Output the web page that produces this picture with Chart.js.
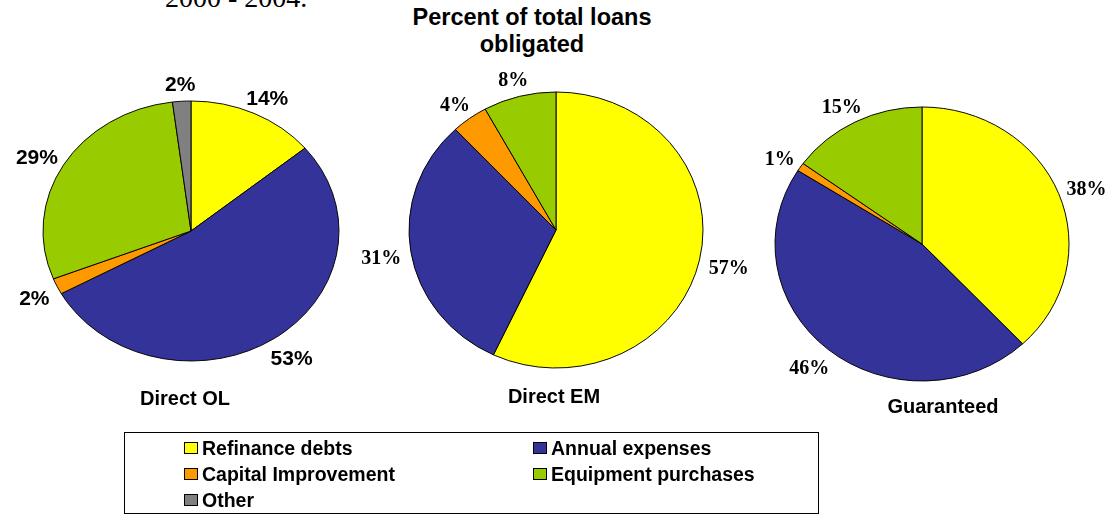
<!DOCTYPE html>
<html>
<head>
<meta charset="utf-8">
<script src="https://cdn.jsdelivr.net/npm/chart.js@4.4.0/dist/chart.umd.min.js"></script>
<style>
  html, body { margin: 0; padding: 0; background: #fff; }
  body { width: 1110px; height: 514px; position: relative; overflow: hidden; color: #000; }
  .abs { position: absolute; white-space: nowrap; }
  #cutText { left: 165px; top: -16px; font: 28px/28px 'Liberation Serif', 'Times New Roman', serif; }
  #mainTitle { left: 332px; width: 400px; top: 4px; text-align: center; font: bold 23.5px/27px 'Liberation Sans', Arial, sans-serif; }
  .pieTitle { font: bold 20px/20px 'Liberation Sans', Arial, sans-serif; transform: translateX(-50%); }
  canvas.pie { position: absolute; }
  #legend { left: 124px; top: 432px; width: 695px; height: 82px; border: 1px solid #000; box-sizing: border-box; }
  .item { position: absolute; font: bold 19.5px/26px 'Liberation Sans', Arial, sans-serif; white-space: nowrap; }
  .sw { display: inline-block; width: 14px; height: 12px; border: 1px solid #000; box-sizing: border-box; margin: 0 4px 1px 0; vertical-align: baseline; }
</style>
</head>
<body>
<div id="cutText" class="abs">2000 - 2004.</div>
<div id="mainTitle" class="abs">Percent of total loans<br>obligated</div>
<canvas id="pieOL" class="pie" width="420" height="400"></canvas>
<canvas id="pieEM" class="pie" width="420" height="400"></canvas>
<canvas id="pieGU" class="pie" width="420" height="400"></canvas>
<div id="legend" class="abs"></div>
<script>
// slice categories and colours
const categories = ['Refinance debts', 'Annual expenses', 'Capital Improvement', 'Equipment purchases', 'Other'];
const sliceColors = ['#FFFF00', '#333399', '#FF9900', '#99CC00', '#808080'];

// percent of total loans obligated, per program
const pieNames = ['Direct OL', 'Direct EM', 'Guaranteed'];
const directOL = [14, 53, 2, 29, 2];
const directEM = [57, 31, 4, 8, 0];
const guaranteed = [38, 46, 1, 15, 0];

const SANS = '"Liberation Sans", Arial, sans-serif';
const SERIF = '"Liberation Serif", "Times New Roman", serif';

// where each pie sits on the page (pies are slightly squashed ellipses)
const pies = [
    { canvas: 'pieOL', data: directOL, cx: 191, cy: 231, rx: 148, ry: 130, font: 'bold 21px ' + SANS, titleX: 185, titleTop: 388 },
    { canvas: 'pieEM', data: directEM, cx: 556, cy: 230, rx: 147, ry: 138, font: 'bold 20px ' + SERIF, titleX: 554, titleTop: 386 },
    { canvas: 'pieGU', data: guaranteed, cx: 922, cy: 244, rx: 147, ry: 137, font: 'bold 20px ' + SERIF, titleX: 943, titleTop: 396 }
];

const LABEL_GAP = 10;
const LABEL_DY = 4;   // text sits a bit low of its box centre

// squash the pie vertically around its centre
function ellipsePlugin(p) {
    return {
        id: 'ellipse',
        beforeDatasetsDraw(chart) {
            const arc = chart.getDatasetMeta(0).data[0];
            const ctx = chart.ctx;
            ctx.save();
            ctx.translate(arc.x, arc.y);
            ctx.scale(1, p.ry / p.rx);
            ctx.translate(-arc.x, -arc.y);
        },
        afterDatasetsDraw(chart) {
            chart.ctx.restore();
        }
    };
}

// percent labels just outside each slice
function labelPlugin(p) {
    return {
        id: 'outsideLabels',
        afterDraw(chart) {
            const ctx = chart.ctx;
            const values = chart.data.datasets[0].data;
            ctx.save();
            ctx.font = p.font;
            ctx.fillStyle = '#000';
            ctx.textAlign = 'center';
            ctx.textBaseline = 'middle';
            chart.getDatasetMeta(0).data.forEach((arc, i) => {
                if (!values[i]) return;
                const text = values[i] + '%';
                const a = (arc.startAngle + arc.endAngle) / 2;
                const w = ctx.measureText(text).width;
                const x = arc.x + (p.rx + LABEL_GAP + w / 2) * Math.cos(a);
                const y = arc.y + (p.ry + LABEL_GAP + 10) * Math.sin(a) + LABEL_DY;
                ctx.fillText(text, x, y);
            });
            ctx.restore();
        }
    };
}

pies.forEach((p, idx) => {
    const el = document.getElementById(p.canvas);
    el.style.left = (p.cx - el.width / 2) + 'px';
    el.style.top = (p.cy - el.height / 2) + 'px';

    new Chart(el, {
        type: 'pie',
        data: {
            labels: categories,
            datasets: [{
                data: p.data,
                backgroundColor: sliceColors,
                borderColor: '#000',
                borderWidth: 1,
                hoverOffset: 0
            }]
        },
        options: {
            responsive: false,
            animation: false,
            events: [],
            radius: p.rx,
            layout: { padding: 0 },
            plugins: {
                legend: { display: false },
                tooltip: { enabled: false },
                title: { display: false }
            }
        },
        plugins: [ellipsePlugin(p), labelPlugin(p)]
    });

    const t = document.createElement('div');
    t.className = 'abs pieTitle';
    t.textContent = pieNames[idx];
    t.style.left = p.titleX + 'px';
    t.style.top = p.titleTop + 'px';
    document.body.appendChild(t);
});

// legend box: two columns, filled row by row
const legendCols = [184, 533];
const legendTop = 434.5;
const legendRowStep = 26;
categories.forEach((name, i) => {
    const item = document.createElement('div');
    item.className = 'item';
    item.style.left = legendCols[i % 2] + 'px';
    item.style.top = (legendTop + Math.floor(i / 2) * legendRowStep) + 'px';
    const sw = document.createElement('span');
    sw.className = 'sw';
    sw.style.background = sliceColors[i];
    item.appendChild(sw);
    item.appendChild(document.createTextNode(name));
    document.body.appendChild(item);
});
</script>
</body>
</html>
